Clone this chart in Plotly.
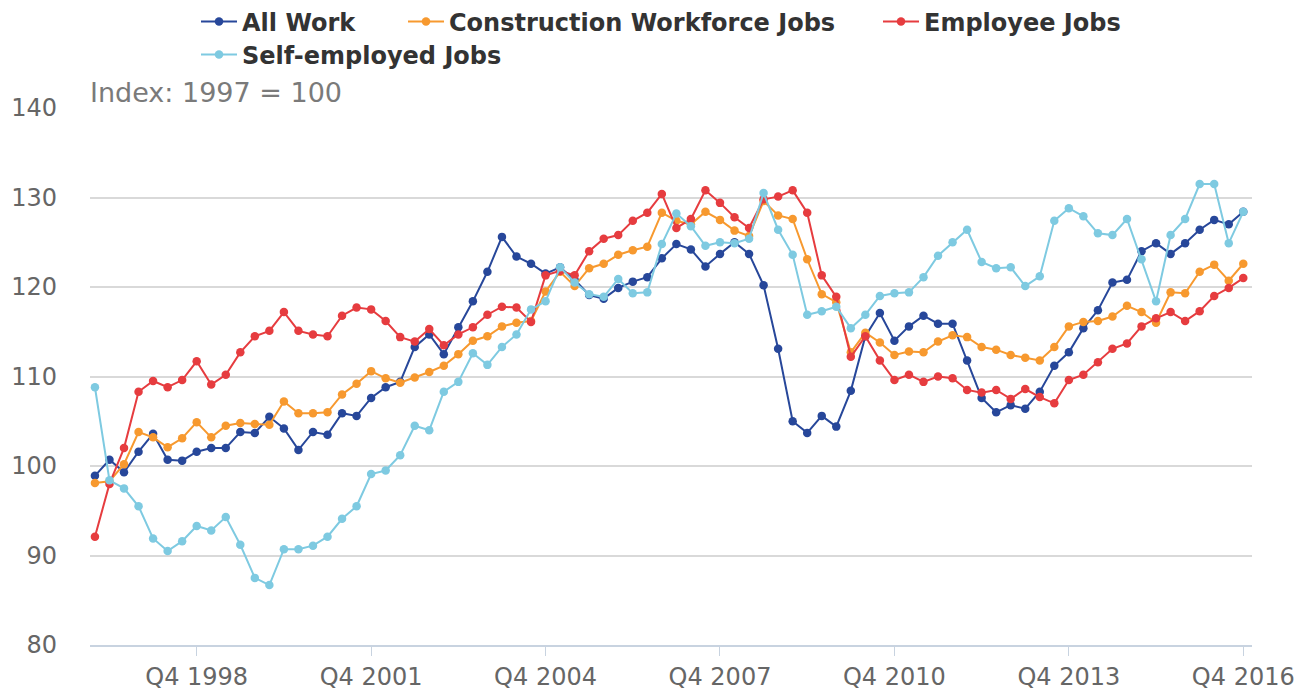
import plotly.graph_objects as go

quarters = [f"Q{q} {y}" for y in range(1997, 2017) for q in (1, 2, 3, 4)]

all_work = [98.9, 100.7, 99.3, 101.6, 103.6, 100.7, 100.6, 101.6, 102.0, 102.0,
            103.8, 103.7, 105.5, 104.2, 101.8, 103.8, 103.5, 105.9, 105.6, 107.6,
            108.8, 109.4, 113.3, 114.7, 112.5, 115.5, 118.4, 121.7, 125.6, 123.4,
            122.6, 121.5, 122.2, 120.8, 119.1, 118.7, 119.9, 120.6, 121.1, 123.2,
            124.8, 124.2, 122.3, 123.7, 125.0, 123.7, 120.2, 113.1, 105.0, 103.7,
            105.6, 104.4, 108.4, 114.5, 117.1, 114.0, 115.6, 116.8, 115.9, 115.9,
            111.8, 107.6, 106.0, 106.8, 106.4, 108.3, 111.2, 112.7, 115.4, 117.4,
            120.5, 120.8, 124.0, 124.9, 123.7, 124.9, 126.4, 127.5, 127.0, 128.4]

construction = [98.1, 98.3, 100.2, 103.8, 103.2, 102.1, 103.1, 104.9, 103.2, 104.5,
                104.8, 104.7, 104.6, 107.2, 105.9, 105.9, 106.0, 108.0, 109.2, 110.6,
                109.8, 109.3, 109.9, 110.5, 111.2, 112.5, 114.0, 114.5, 115.6, 116.0,
                116.2, 119.5, 121.7, 120.1, 122.1, 122.6, 123.6, 124.1, 124.5, 128.3,
                127.4, 127.0, 128.4, 127.5, 126.3, 125.7, 129.6, 128.0, 127.6, 123.1,
                119.2, 118.3, 112.7, 114.9, 113.8, 112.4, 112.8, 112.7, 113.9, 114.6,
                114.4, 113.3, 113.0, 112.4, 112.1, 111.8, 113.3, 115.6, 116.1, 116.2,
                116.7, 117.9, 117.2, 116.0, 119.4, 119.3, 121.7, 122.5, 120.7, 122.6]

employee = [92.1, 98.0, 102.0, 108.3, 109.5, 108.8, 109.6, 111.7, 109.1, 110.2,
            112.7, 114.5, 115.1, 117.2, 115.1, 114.7, 114.5, 116.8, 117.7, 117.5,
            116.2, 114.4, 113.9, 115.3, 113.5, 114.7, 115.5, 116.9, 117.8, 117.7,
            116.1, 121.3, 121.8, 121.3, 124.0, 125.4, 125.8, 127.4, 128.3, 130.4,
            126.6, 127.6, 130.8, 129.4, 127.8, 126.6, 129.8, 130.1, 130.8, 128.3,
            121.3, 118.9, 112.2, 114.5, 111.8, 109.6, 110.2, 109.4, 110.0, 109.8,
            108.5, 108.2, 108.5, 107.5, 108.6, 107.7, 107.0, 109.6, 110.2, 111.6,
            113.1, 113.7, 115.6, 116.5, 117.2, 116.2, 117.3, 119.0, 119.9, 121.0]

self_employed = [108.8, 98.4, 97.5, 95.5, 91.9, 90.5, 91.6, 93.3, 92.8, 94.3,
                 91.2, 87.5, 86.7, 90.7, 90.7, 91.1, 92.1, 94.1, 95.5, 99.1,
                 99.5, 101.2, 104.5, 104.0, 108.3, 109.4, 112.6, 111.3, 113.3, 114.7,
                 117.5, 118.4, 122.2, 120.5, 119.2, 118.9, 120.9, 119.3, 119.4, 124.8,
                 128.2, 126.8, 124.6, 125.0, 124.9, 125.4, 130.5, 126.4, 123.6, 116.9,
                 117.3, 117.8, 115.4, 116.9, 119.0, 119.3, 119.4, 121.1, 123.5, 125.0,
                 126.4, 122.8, 122.1, 122.2, 120.1, 121.2, 127.4, 128.8, 127.9, 126.0,
                 125.8, 127.6, 123.1, 118.4, 125.8, 127.6, 131.5, 131.5, 124.9, 128.4]

tick_labels = ["Q4 1998", "Q4 2001", "Q4 2004", "Q4 2007", "Q4 2010", "Q4 2013", "Q4 2016"]

series = [
    ("All Work", all_work, "#27479a", "legend"),
    ("Construction Workforce Jobs", construction, "#f7992f", "legend2"),
    ("Employee Jobs", employee, "#e63c3f", "legend3"),
    ("Self-employed Jobs", self_employed, "#7ecae1", "legend4"),
]

fig = go.Figure()
for name, vals, color, lg in series:
    fig.add_trace(go.Scatter(
        x=quarters, y=vals, name=name, mode="lines+markers",
        line=dict(color=color, width=2),
        marker=dict(color=color, size=8.5),
        legend=lg,
    ))

legend_font = dict(family="DejaVu Sans", size=24, color="#333333", weight="bold")

W, H = 1304, 683


def legend_at(px, py):
    return dict(
        orientation="h", xref="container", x=px / W, xanchor="left",
        yref="container", y=1 - py / H, yanchor="middle",
        font=legend_font, bgcolor="rgba(0,0,0,0)", itemwidth=36,
    )


fig.update_layout(
    width=W, height=H,
    margin=dict(l=82, r=60, t=100, b=46, autoexpand=False),
    paper_bgcolor="white", plot_bgcolor="white",
    font=dict(family="DejaVu Sans", color="#666666", size=24),
    showlegend=True,
    legend=legend_at(188, 14),
    legend2=legend_at(395, 14),
    legend3=legend_at(870, 14),
    legend4=legend_at(188, 47),
    xaxis=dict(
        type="category", range=[-0.34, 79.6], automargin=False,
        tickmode="array", tickvals=tick_labels, ticktext=tick_labels,
        showgrid=False, zeroline=False,
        showline=True, linecolor="#c8d3e0", linewidth=2,
        ticks="outside", ticklen=9, tickcolor="#c8d3e0", tickwidth=1,
        tickfont=dict(size=24, color="#666666"),
    ),
    yaxis=dict(
        range=[80, 140], tickmode="array", tickvals=[80, 90, 100, 110, 120, 130, 140],
        automargin=False,
        showgrid=True, gridcolor="#d9d9d9", gridwidth=2, zeroline=False,
        showline=False, ticks="", ticklabelstandoff=32,
        tickfont=dict(size=24, color="#666666"),
    ),
    annotations=[dict(
        text="Index: 1997 = 100", xref="paper", yref="paper", x=0, y=1.0,
        xanchor="left", yanchor="bottom", showarrow=False, xshift=-2, yshift=-2,
        font=dict(family="DejaVu Sans", size=27, color="#7a7a7a"),
    )],
)

fig.write_html("out.html")
